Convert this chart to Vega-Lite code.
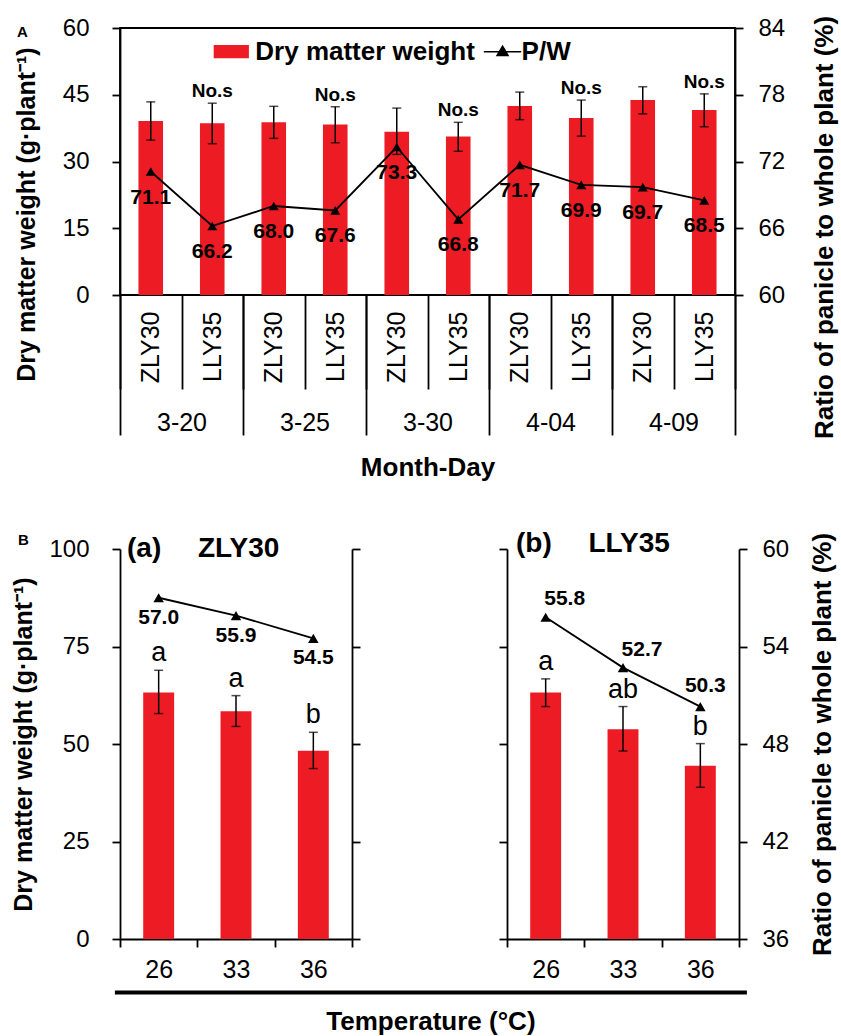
{
  "$schema": "https://vega.github.io/schema/vega-lite/v6.json",
  "padding": {"left": 11, "top": 14, "right": 5, "bottom": 5},
  "config": {
    "font": "Liberation Sans",
    "view": {"stroke": null},
    "axis": {"grid": false, "domainColor": "#000", "domainWidth": 1.8, "tickColor": "#000", "tickWidth": 1.8, "tickSize": 8, "labelColor": "#000", "labelFont": "Liberation Sans", "labelFontSize": 24, "titleColor": "#000", "titleFont": "Liberation Sans", "titleFontSize": 26, "titleFontWeight": "bold"},
    "title": {"font": "Liberation Sans", "color": "#000"},
    "text": {"font": "Liberation Sans", "color": "#000"}
  },
  "datasets": {
    "pa": [
      {"key": "3-20|ZLY30", "date": "3-20", "cv": "ZLY30", "dmw": 39.1, "lo": 34.8, "hi": 43.4, "pw": 71.1, "sig": ""},
      {"key": "3-20|LLY35", "date": "3-20", "cv": "LLY35", "dmw": 38.6, "lo": 34.0, "hi": 43.1, "pw": 66.2, "sig": "No.s"},
      {"key": "3-25|ZLY30", "date": "3-25", "cv": "ZLY30", "dmw": 38.8, "lo": 35.2, "hi": 42.4, "pw": 68.0, "sig": ""},
      {"key": "3-25|LLY35", "date": "3-25", "cv": "LLY35", "dmw": 38.3, "lo": 34.2, "hi": 42.3, "pw": 67.6, "sig": "No.s"},
      {"key": "3-30|ZLY30", "date": "3-30", "cv": "ZLY30", "dmw": 36.7, "lo": 31.6, "hi": 42.0, "pw": 73.3, "sig": ""},
      {"key": "3-30|LLY35", "date": "3-30", "cv": "LLY35", "dmw": 35.6, "lo": 32.3, "hi": 38.8, "pw": 66.8, "sig": "No.s"},
      {"key": "4-04|ZLY30", "date": "4-04", "cv": "ZLY30", "dmw": 42.5, "lo": 39.4, "hi": 45.6, "pw": 71.7, "sig": ""},
      {"key": "4-04|LLY35", "date": "4-04", "cv": "LLY35", "dmw": 39.8, "lo": 35.7, "hi": 43.8, "pw": 69.9, "sig": "No.s"},
      {"key": "4-09|ZLY30", "date": "4-09", "cv": "ZLY30", "dmw": 43.8, "lo": 40.7, "hi": 46.8, "pw": 69.7, "sig": ""},
      {"key": "4-09|LLY35", "date": "4-09", "cv": "LLY35", "dmw": 41.6, "lo": 37.8, "hi": 45.2, "pw": 68.5, "sig": "No.s"}
    ],
    "pb": [
      {"cv": "ZLY30", "temp": "26", "dmw": 63.2, "lo": 57.8, "hi": 68.9, "pw": 57.0, "let": "a"},
      {"cv": "ZLY30", "temp": "33", "dmw": 58.4, "lo": 54.5, "hi": 62.4, "pw": 55.9, "let": "a"},
      {"cv": "ZLY30", "temp": "36", "dmw": 48.3, "lo": 43.7, "hi": 53.0, "pw": 54.5, "let": "b"},
      {"cv": "LLY35", "temp": "26", "dmw": 63.2, "lo": 59.6, "hi": 66.7, "pw": 55.8, "let": "a"},
      {"cv": "LLY35", "temp": "33", "dmw": 53.8, "lo": 48.2, "hi": 59.6, "pw": 52.7, "let": "ab"},
      {"cv": "LLY35", "temp": "36", "dmw": 44.4, "lo": 38.9, "hi": 50.1, "pw": 50.3, "let": "b"}
    ]
  },
  "bounds": "flush",
  "spacing": 254,
  "vconcat": [
    {
      "width": 615,
      "height": 267,
      "view": {"stroke": "#000", "strokeWidth": 1.8},
      "title": {"text": "A", "anchor": "start", "frame": "group", "fontSize": 15, "fontWeight": "bold", "dx": -103, "offset": -25},
      "layer": [
        {
          "data": {"name": "pa"},
          "encoding": {
            "x": {"field": "key", "type": "nominal", "sort": null, "scale": {"paddingInner": 0, "paddingOuter": 0},
              "axis": {"orient": "bottom", "title": null, "domain": false, "tickBand": "extent", "tickSize": 94, "labelExpr": "split(datum.value, '|')[1]", "labelAngle": 270, "labelPadding": -78, "labelFontSize": 25}}
          },
          "layer": [
            {
              "layer": [
                {
                  "mark": {"type": "bar", "width": {"band": 0.4}},
                  "encoding": {
                    "y": {"field": "dmw", "type": "quantitative", "scale": {"domain": [0, 60]}, "title": "Dry matter weight (g·plant⁻¹)",
                      "axis": {"orient": "left", "values": [0, 15, 30, 45, 60], "title": "Dry matter weight (g·plant⁻¹)", "titleFontSize": 25, "titlePadding": 23, "titleY": 186, "labelPadding": 23, "labelFontSize": 24}},
                    "color": {"datum": "Dry matter weight", "type": "nominal",
                      "scale": {"domain": ["Dry matter weight", "P/W"], "range": ["#ed1c24", "#000000"]},
                      "legend": {
                        "orient": "none", "legendX": 98.3, "legendY": 10.7, "direction": "horizontal", "title": null,
                        "symbolSize": 484, "labelFontSize": 26, "labelFontWeight": "bold", "labelFont": "Liberation Sans", "labelColor": "#000",
                        "labelOffset": 11, "columnPadding": 5.3, "padding": 0, "labelLimit": 400,
                        "encode": {"symbols": {"update": {
                          "shape": {"signal": "datum.value === 'P/W' ? 'M-1.25,0H2.15M0.45,-0.5L0.95,0.35H-0.05Z' : 'M-1.6,-0.6H1.6V0.6H-1.6Z'"},
                          "stroke": {"signal": "datum.value === 'P/W' ? '#000' : null"},
                          "strokeWidth": {"value": 1.5},
                          "fill": {"signal": "datum.value === 'P/W' ? '#000' : '#ed1c24'"},
                          "opacity": {"value": 1},
                          "fillOpacity": {"value": 1}
                        }}}
                      }
                    }
                  }
                },
                {
                  "mark": {"type": "errorbar", "ticks": {"size": 9, "thickness": 1.5, "color": "#000"}, "rule": {"strokeWidth": 1.5, "color": "#000"}},
                  "encoding": {"y": {"field": "lo", "type": "quantitative", "title": "Dry matter weight (g·plant⁻¹)"}, "y2": {"field": "hi"}}
                },
                {
                  "mark": {"type": "text", "fontSize": 19, "fontWeight": "bold", "baseline": "alphabetic", "dy": -6},
                  "encoding": {"y": {"field": "hi", "type": "quantitative", "title": "Dry matter weight (g·plant⁻¹)"}, "text": {"field": "sig"}}
                }
              ]
            },
            {
              "layer": [
                {
                  "mark": {"type": "line", "color": "#000", "strokeWidth": 1.8},
                  "encoding": {"y": {"field": "pw", "type": "quantitative", "scale": {"domain": [60, 84]}, "title": "Ratio of panicle to whole plant (%)",
                    "axis": {"orient": "right", "values": [60, 66, 72, 78, 84], "title": "Ratio of panicle to whole plant (%)", "titleAngle": 270, "titleBaseline": "top", "titlePadding": 27, "titleY": 199, "labelPadding": 15, "labelFontSize": 24}}}
                },
                {
                  "mark": {"type": "point", "shape": "triangle-up", "filled": true, "size": 100, "opacity": 1},
                  "encoding": {"y": {"field": "pw", "type": "quantitative", "title": "Ratio of panicle to whole plant (%)"}, "color": {"datum": "P/W", "type": "nominal"}}
                },
                {
                  "mark": {"type": "text", "fontSize": 21, "fontWeight": "bold", "baseline": "middle", "dy": 26},
                  "encoding": {"y": {"field": "pw", "type": "quantitative", "title": "Ratio of panicle to whole plant (%)"}, "text": {"field": "pw", "type": "quantitative", "format": ".1f"}}
                }
              ]
            }
          ],
          "resolve": {"scale": {"y": "independent"}}
        },
        {
          "data": {"name": "pa"},
          "mark": {"type": "point", "opacity": 0},
          "encoding": {
            "x": {"field": "date", "type": "nominal", "sort": null, "scale": {"paddingInner": 0, "paddingOuter": 0},
              "axis": {"orient": "bottom", "title": "Month-Day", "titleFontSize": 26, "titlePadding": 19, "domain": false, "tickBand": "extent", "tickSize": 140, "labelAngle": 0, "labelBaseline": "top", "labelPadding": -25, "labelFontSize": 25}}
          }
        }
      ],
      "resolve": {"scale": {"x": "independent", "y": "independent"}}
    },
    {
      "bounds": "flush",
      "spacing": 155,
      "title": {"text": "B", "anchor": "start", "frame": "group", "fontSize": 15, "fontWeight": "bold", "dx": -102, "offset": -18},
      "hconcat": [
        {
          "width": 232,
          "height": 390,
          "title": {"text": "(a)\u00a0\u00a0\u00a0\u00a0\u2009ZLY30", "anchor": "start", "frame": "group", "fontSize": 28, "fontWeight": "bold", "dx": 7, "offset": -26},
          "layer": [
            {
              "data": {"name": "pb"},
              "transform": [{"filter": "datum.cv === 'ZLY30'"}],
              "encoding": {"x": {"field": "temp", "type": "nominal", "sort": null, "scale": {"paddingInner": 0, "paddingOuter": 0},
                "axis": {"title": null, "tickBand": "extent", "labelAngle": 0, "labelPadding": 10, "labelFontSize": 25, "tickSize": 8}}},
              "layer": [
                {
                  "layer": [
                    {
                      "mark": {"type": "bar", "width": {"band": 0.4}, "color": "#ed1c24"},
                      "encoding": {"y": {"field": "dmw", "type": "quantitative", "scale": {"domain": [0, 100]}, "title": "Dry matter weight (g·plant⁻¹)",
                        "axis": {"orient": "left", "values": [0, 25, 50, 75, 100], "title": "Dry matter weight (g·plant⁻¹)", "titleFontSize": 25, "titlePadding": 12, "labelPadding": 23, "labelFontSize": 24}}}
                    },
                    {
                      "mark": {"type": "errorbar", "ticks": {"size": 9, "thickness": 1.5, "color": "#000"}, "rule": {"strokeWidth": 1.5, "color": "#000"}},
                      "encoding": {"y": {"field": "lo", "type": "quantitative", "title": "Dry matter weight (g·plant⁻¹)"}, "y2": {"field": "hi"}}
                    },
                    {
                      "mark": {"type": "text", "fontSize": 27, "baseline": "alphabetic", "dy": -9},
                      "encoding": {"y": {"field": "hi", "type": "quantitative", "title": "Dry matter weight (g·plant⁻¹)"}, "text": {"field": "let"}}
                    }
                  ]
                },
                {
                  "layer": [
                    {
                      "mark": {"type": "line", "color": "#000", "strokeWidth": 1.8},
                      "encoding": {"y": {"field": "pw", "type": "quantitative", "scale": {"domain": [36, 60]}, "title": null,
                        "axis": {"orient": "right", "values": [36, 42, 48, 54, 60], "labels": false, "title": null}}}
                    },
                    {
                      "mark": {"type": "point", "shape": "triangle-up", "filled": true, "size": 110, "opacity": 1, "color": "#000"},
                      "encoding": {"y": {"field": "pw", "type": "quantitative", "title": null}}
                    },
                    {
                      "mark": {"type": "text", "fontSize": 21, "fontWeight": "bold", "baseline": "middle", "dy": 20},
                      "encoding": {"y": {"field": "pw", "type": "quantitative", "title": null}, "text": {"field": "pw", "type": "quantitative", "format": ".1f"}}
                    }
                  ]
                }
              ],
              "resolve": {"scale": {"y": "independent"}}
            },
            {
              "data": {"name": "pb"},
              "mark": {"type": "point", "opacity": 0},
              "encoding": {"x": {"field": "dmw", "type": "quantitative", "scale": {"range": [-5.6, 626.4]},
                "axis": {"orient": "bottom", "offset": 53, "domainWidth": 4, "ticks": false, "labels": false, "title": "Temperature (°C)", "titleFontSize": 26, "titlePadding": 16}}}
            }
          ],
          "resolve": {"scale": {"x": "independent", "y": "independent"}}
        },
        {
          "width": 232,
          "height": 390,
          "title": {"text": "(b)\u00a0\u00a0\u00a0\u00a0\u2009LLY35", "anchor": "start", "frame": "group", "fontSize": 28, "fontWeight": "bold", "dx": 9, "offset": -26},
          "data": {"name": "pb"},
          "transform": [{"filter": "datum.cv === 'LLY35'"}],
          "encoding": {"x": {"field": "temp", "type": "nominal", "sort": null, "scale": {"paddingInner": 0, "paddingOuter": 0},
            "axis": {"title": null, "tickBand": "extent", "labelAngle": 0, "labelPadding": 10, "labelFontSize": 25, "tickSize": 8}}},
          "layer": [
            {
              "layer": [
                {
                  "mark": {"type": "bar", "width": {"band": 0.4}, "color": "#ed1c24"},
                  "encoding": {"y": {"field": "dmw", "type": "quantitative", "scale": {"domain": [0, 100]}, "title": null,
                    "axis": {"orient": "left", "values": [0, 25, 50, 75, 100], "labels": false, "title": null}}}
                },
                {
                  "mark": {"type": "errorbar", "ticks": {"size": 9, "thickness": 1.5, "color": "#000"}, "rule": {"strokeWidth": 1.5, "color": "#000"}},
                  "encoding": {"y": {"field": "lo", "type": "quantitative", "title": null}, "y2": {"field": "hi"}}
                },
                {
                  "mark": {"type": "text", "fontSize": 27, "baseline": "alphabetic", "dy": -9},
                  "encoding": {"y": {"field": "hi", "type": "quantitative", "title": null}, "text": {"field": "let"}}
                }
              ]
            },
            {
              "layer": [
                {
                  "mark": {"type": "line", "color": "#000", "strokeWidth": 1.8},
                  "encoding": {"y": {"field": "pw", "type": "quantitative", "scale": {"domain": [36, 60]}, "title": "Ratio of panicle to whole plant (%)",
                    "axis": {"orient": "right", "values": [36, 42, 48, 54, 60], "title": "Ratio of panicle to whole plant (%)", "titleAngle": 270, "titleBaseline": "top", "titlePadding": 21, "labelPadding": 15, "labelFontSize": 24}}}
                },
                {
                  "mark": {"type": "point", "shape": "triangle-up", "filled": true, "size": 110, "opacity": 1, "color": "#000"},
                  "encoding": {"y": {"field": "pw", "type": "quantitative", "title": "Ratio of panicle to whole plant (%)"}}
                },
                {
                  "transform": [{"filter": "datum.temp !== '36'"}],
                  "mark": {"type": "text", "fontSize": 21, "fontWeight": "bold", "baseline": "middle", "dx": 19, "dy": -18},
                  "encoding": {"y": {"field": "pw", "type": "quantitative", "title": "Ratio of panicle to whole plant (%)"}, "text": {"field": "pw", "type": "quantitative", "format": ".1f"}}
                },
                {
                  "transform": [{"filter": "datum.temp === '36'"}],
                  "mark": {"type": "text", "fontSize": 21, "fontWeight": "bold", "baseline": "middle", "dx": 5, "dy": -21},
                  "encoding": {"y": {"field": "pw", "type": "quantitative", "title": "Ratio of panicle to whole plant (%)"}, "text": {"field": "pw", "type": "quantitative", "format": ".1f"}}
                }
              ]
            }
          ],
          "resolve": {"scale": {"y": "independent"}}
        }
      ]
    }
  ]
}
